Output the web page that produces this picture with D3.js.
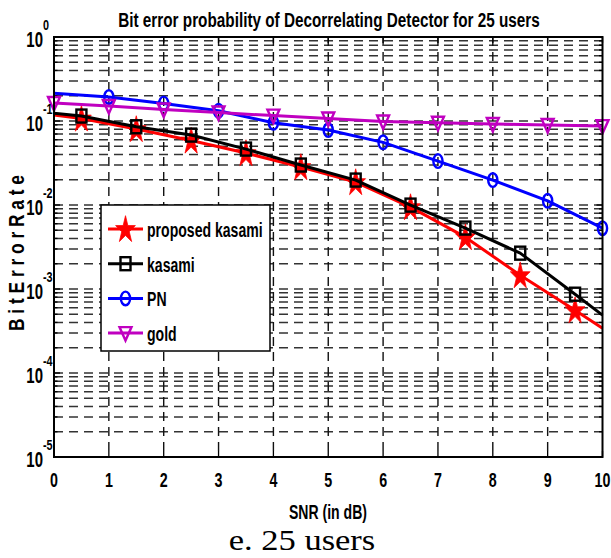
<!DOCTYPE html>
<html>
<head>
<meta charset="utf-8">
<script src="https://cdn.jsdelivr.net/npm/d3@7"></script>
<style>
  html, body { margin: 0; padding: 0; background: #fff; }
  svg { display: block; }
  .bold { font-family: "Liberation Sans", Arial, sans-serif; font-weight: bold; fill: #000; }
</style>
</head>
<body>
<svg id="chart" width="611" height="558"></svg>
<script>
// SNR points for the Kasami curves (markers sit on the half-dB points)
const snrHalf = [0, 0.5, 1.5, 2.5, 3.5, 4.5, 5.5, 6.5, 7.5, 8.5, 9.5, 10];
const proposedKasami = [0.1177, 0.107, 0.0802, 0.0585, 0.0415, 0.0283, 0.01874, 0.00944, 0.00414, 0.00146, 0.00056, 0.000341];
const kasami = [0.124, 0.1145, 0.0854, 0.068, 0.0463, 0.0299, 0.0198, 0.00997, 0.00531, 0.00267, 0.000867, 0.000488];

// SNR points for PN and Gold codes
const snr = [0, 1, 2, 3, 4, 5, 6, 7, 8, 9, 10];
const pn = [0.2134, 0.193, 0.162, 0.1324, 0.0953, 0.078, 0.0557, 0.0333, 0.0198, 0.01122, 0.0053];
const gold = [0.1636, 0.1507, 0.1368, 0.126, 0.116, 0.107, 0.0985, 0.0953, 0.092, 0.0895, 0.087];

const xTicks = [0, 1, 2, 3, 4, 5, 6, 7, 8, 9, 10];
const yDecades = [-5, -4, -3, -2, -1, 0];
const legendLabels = ["proposed kasami", "kasami", "PN", "gold"];

const titleText = "Bit error probability of Decorrelating Detector  for 25 users";
const xLabelText = "SNR (in dB)";
const yLabelText = "B i t  E r r o r  R a t e";
const captionText = "e. 25 users";

const svg = d3.select("#chart");
const plot = { left: 54, right: 602.5, top: 37, bottom: 457 };

const x = d3.scaleLinear().domain([0, 10]).range([plot.left, plot.right]);
const y = d3.scaleLog().domain([1e-5, 1]).range([plot.bottom, plot.top]);

// bold text squeezed horizontally by a fixed factor
function squeezed(parent, px, py, str, size, anchor, sx) {
  const g = parent.append("g").attr("transform", `translate(${px},${py}) scale(${sx},1)`);
  return g.append("text").attr("class", "bold").attr("text-anchor", anchor || "start")
    .style("font-size", size + "px").text(str);
}

// bold text squeezed to a target width
function fitted(parent, px, py, str, size, width, rotate) {
  const g = parent.append("g");
  const t = g.append("text").attr("class", "bold").attr("text-anchor", "middle")
    .style("font-size", size + "px").text(str);
  const natural = t.node().getComputedTextLength();
  const sx = width / natural;
  g.attr("transform", `translate(${px},${py})${rotate ? " rotate(" + rotate + ")" : ""} scale(${sx},1)`);
  return t;
}

// all log positions between decades
const logLines = [];
yDecades.slice(0, -1).forEach(e => {
  for (let k = 1; k <= 9; k++) logLines.push({ v: k * Math.pow(10, e), major: k === 1 });
});
const gridY = logLines.filter(d => d.v > 1e-5);

// grid
const grid = svg.append("g");
grid.selectAll("line.gy").data(gridY).join("line")
  .attr("x1", plot.left).attr("x2", plot.right)
  .attr("y1", d => y(d.v)).attr("y2", d => y(d.v))
  .attr("stroke", "#333").attr("stroke-width", 1.5).attr("stroke-dasharray", "9,6");
grid.selectAll("line.gx").data(xTicks.slice(1, -1)).join("line")
  .attr("x1", d => x(d)).attr("x2", d => x(d))
  .attr("y1", plot.top).attr("y2", plot.bottom)
  .attr("stroke", "#111").attr("stroke-width", 1.4).attr("stroke-dasharray", "9,6");

// ticks (inward)
const ticks = svg.append("g").attr("stroke", "#000").attr("stroke-width", 1.3);
xTicks.forEach(t => {
  ticks.append("line").attr("x1", x(t)).attr("x2", x(t)).attr("y1", plot.bottom).attr("y2", plot.bottom - 6);
  ticks.append("line").attr("x1", x(t)).attr("x2", x(t)).attr("y1", plot.top).attr("y2", plot.top + 6);
});
logLines.concat([{ v: 1, major: true }]).forEach(d => {
  const len = d.major ? 6 : 3.5;
  ticks.append("line").attr("x1", plot.left).attr("x2", plot.left + len).attr("y1", y(d.v)).attr("y2", y(d.v));
  ticks.append("line").attr("x1", plot.right).attr("x2", plot.right - len).attr("y1", y(d.v)).attr("y2", y(d.v));
});

// series
const series = [
  { name: "proposed kasami", xs: snrHalf, ys: proposedKasami, color: "#ff0000", marker: "star", from: 1, to: snrHalf.length - 2 },
  { name: "kasami", xs: snrHalf, ys: kasami, color: "#000000", marker: "square", from: 1, to: snrHalf.length - 2 },
  { name: "PN", xs: snr, ys: pn, color: "#0000ff", marker: "circle", from: 1, to: snr.length - 1 },
  { name: "gold", xs: snr, ys: gold, color: "#c000c0", marker: "tri", from: 0, to: snr.length - 1 }
];

function drawMarker(g, type, cx, cy, color) {
  if (type === "star") {
    g.append("path").attr("d", d3.symbol(d3.symbolStar, 190)())
      .attr("transform", `translate(${cx},${cy + 1}) scale(0.8,1.1)`)
      .attr("fill", color).attr("stroke", color).attr("stroke-width", 0.8);
  } else if (type === "square") {
    g.append("rect").attr("x", cx - 5).attr("y", cy - 6.5).attr("width", 10).attr("height", 13)
      .attr("fill", "none").attr("stroke", color).attr("stroke-width", 2.4);
  } else if (type === "circle") {
    g.append("ellipse").attr("cx", cx).attr("cy", cy).attr("rx", 4.6).attr("ry", 6.8)
      .attr("fill", "none").attr("stroke", color).attr("stroke-width", 2.4);
  } else if (type === "tri") {
    g.append("path").attr("d", `M${cx - 6},${cy - 6} L${cx + 6},${cy - 6} L${cx},${cy + 7.5} Z`)
      .attr("fill", "none").attr("stroke", color).attr("stroke-width", 2.4).attr("stroke-linejoin", "miter");
  }
}

const lineGen = d3.line().x(d => x(d[0])).y(d => y(d[1]));
const dataG = svg.append("g");
series.forEach(s => {
  const pts = s.xs.map((v, i) => [v, s.ys[i]]);
  const g = dataG.append("g");
  g.append("path").attr("d", lineGen(pts)).attr("fill", "none")
    .attr("stroke", s.color).attr("stroke-width", 3).attr("stroke-linejoin", "round");
  pts.forEach((p, i) => {
    if (i >= s.from && i <= s.to) drawMarker(g, s.marker, x(p[0]), y(p[1]), s.color);
  });
});

// frame
svg.append("rect").attr("x", plot.left).attr("y", plot.top)
  .attr("width", plot.right - plot.left).attr("height", plot.bottom - plot.top)
  .attr("fill", "none").attr("stroke", "#000").attr("stroke-width", 2);

// x tick labels
xTicks.forEach(t => squeezed(svg, x(t), 487, String(t), 21, "middle", 0.68));

// y tick labels: 10 with exponent
yDecades.forEach(e => {
  const ty = y(Math.pow(10, e));
  squeezed(svg, 43, ty + 10, "10", 22, "end", 0.68);
  squeezed(svg, 43, ty - 7, String(e), 15, "start", 0.72);
});

// title and axis labels
fitted(svg, 329, 27, titleText, 21, 422);
fitted(svg, 328, 519, xLabelText, 21, 78);
fitted(svg, 24, 253, yLabelText, 22, 156, -90);

// legend
const lg = svg.append("g");
lg.append("rect").attr("x", 101).attr("y", 205).attr("width", 169).attr("height", 146)
  .attr("fill", "#fff").attr("stroke", "#000").attr("stroke-width", 1.5);
series.forEach((s, i) => {
  const ly = 229 + i * 34.7;
  lg.append("line").attr("x1", 108).attr("x2", 143).attr("y1", ly).attr("y2", ly)
    .attr("stroke", s.color).attr("stroke-width", 3);
  drawMarker(lg, s.marker, 125.5, ly, s.color);
  squeezed(lg, 147, ly + 8, legendLabels[i], 21, "start", 0.67);
});

// caption
svg.append("g").attr("transform", "translate(302,550) scale(1.15,1)")
  .append("text").attr("text-anchor", "middle")
  .style("font-family", "'Liberation Serif', 'Times New Roman', serif").style("font-size", "30px")
  .text(captionText);
</script>
</body>
</html>
